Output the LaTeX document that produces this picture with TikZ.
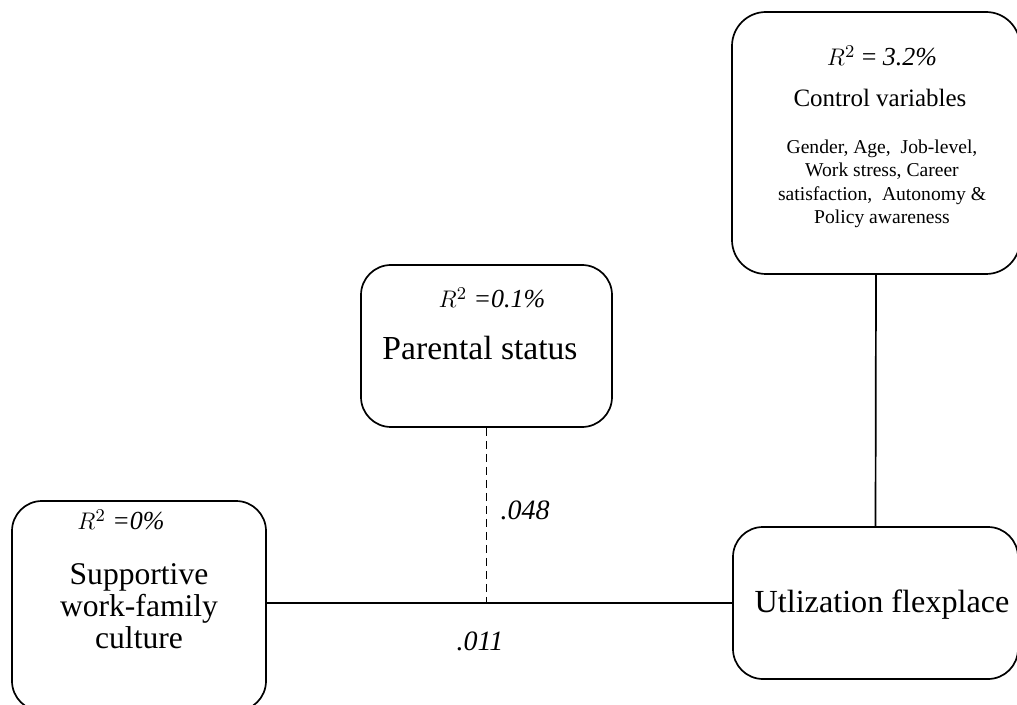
\documentclass[tikz,border=0pt]{standalone}
\usepackage{fontspec}
\setmainfont{Liberation Serif}
\usetikzlibrary{positioning,calc}

\begin{document}
\begin{tikzpicture}[
    x=0.5pt, y=-0.5pt,
    varbox/.style={rectangle, draw, line width=0.85pt, rounded corners=15pt,
        inner sep=0pt},
    boxtext/.style={align=center, inner sep=0pt},
    rsq/.style={boxtext, font=\fontsize{13}{15}\selectfont},
    coef/.style={font=\fontsize{14}{16}\selectfont\itshape, inner sep=0pt},
    path/.style={draw, line width=0.85pt},
    moderation/.style={draw, line width=0.85pt, dash pattern=on 4pt off 2.5pt}
]
\useasboundingbox (0,0) rectangle (1017,705);
\clip (0,0) rectangle (1017,705);
\node (Support) [varbox, minimum width=127pt, minimum height=105pt] at (139,606) {};
\node (Parental) [varbox, minimum width=125.5pt, minimum height=81pt] at (486.5,346) {};
\node (Control) [varbox, minimum width=144pt, minimum height=131pt, rounded corners=17pt] at (876,143) {};
\node (Util) [varbox, minimum width=142.5pt, minimum height=76pt] at (875.5,603) {};

\node (SupportR) [rsq] at (121,520) {$R^2$ \textit{=0\%}};
\node (SupportName) [boxtext, font=\fontsize{15.8}{16}\selectfont] at (139,606) {Supportive\\work-family\\culture};
\node (ParentalR) [rsq] at (492,298) {$R^2$ \textit{=0.1\%}};
\node (ParentalName) [boxtext, font=\fontsize{16.8}{18}\selectfont] at (480,348) {Parental status};
\node (ControlR) [rsq] at (882,56) {$R^2$ = \textit{3.2\%}};
\node (ControlName) [boxtext, font=\fontsize{12.5}{14}\selectfont] at (880,98) {Control variables};
\node (ControlList) [boxtext, font=\fontsize{9.8}{11.75}\selectfont] at (882,184)
    {Gender, Age,\ \ Job-level,\\Work stress, Career\\satisfaction,\ \ Autonomy \&\\Policy awareness};
\node (UtilName) [boxtext, font=\fontsize{16.1}{18}\selectfont] at (882,605) {Utlization flexplace};

\coordinate (Junction) at (Parental.south |- Util.west);
\draw [path] (Support.east |- Util.west) -- (Util.west);
\draw [moderation] (Parental.south) -- (Junction);
\draw [path] (Control.south) -- (Util.north);

\node (PathA) [coef] at (525,510) {.048};
\node (PathB) [coef] at (480,641) {.011};
\end{tikzpicture}
\end{document}
